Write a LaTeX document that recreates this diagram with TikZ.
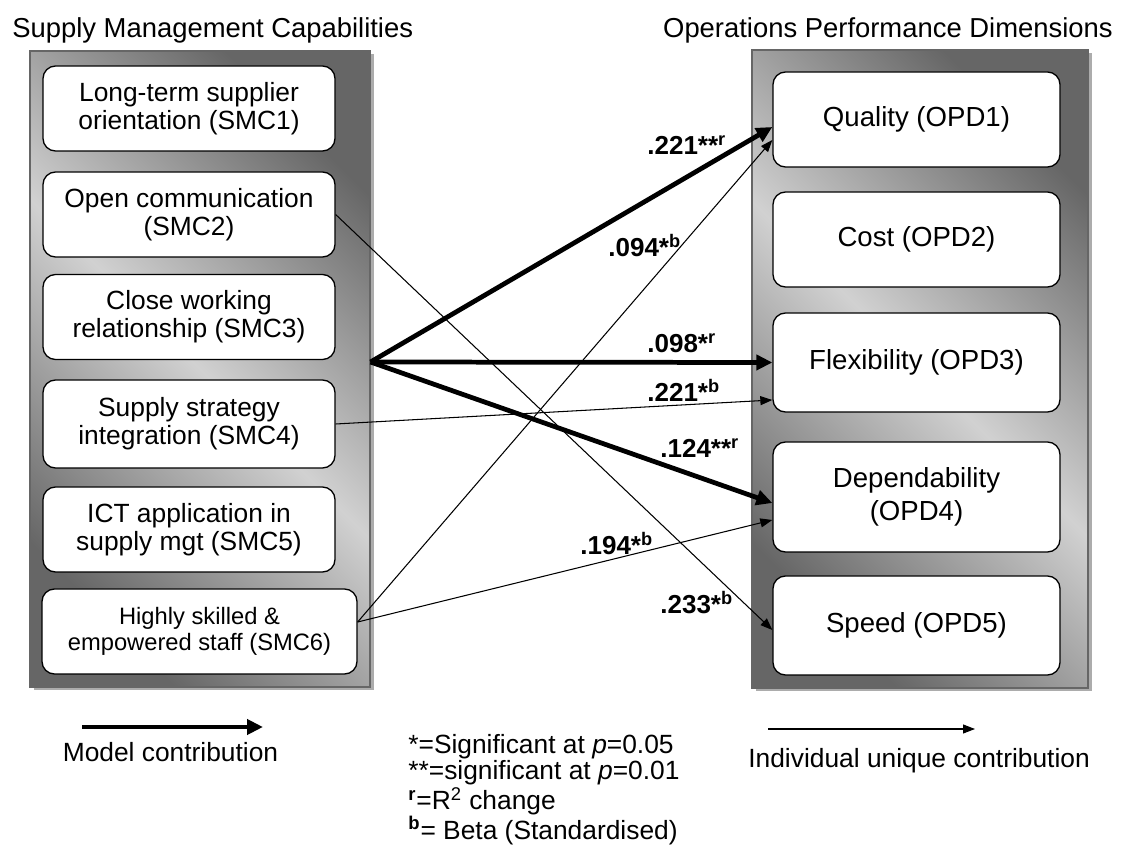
\documentclass[tikz,border=0pt]{standalone}
\usepackage{fontspec}
\setmainfont{Liberation Sans}
\usetikzlibrary{arrows.meta,shadows}
\definecolor{pnldark}{gray}{0.4}
\definecolor{pnllight}{gray}{0.82}
\tikzset{
  panel/.style={draw=gray!80!black,line width=.6pt,top color=pnldark,bottom color=pnldark,middle color=pnllight,shading angle=-45,
    drop shadow={shadow xshift=.07cm,shadow yshift=-.07cm,fill=gray!65,opacity=1}},
  smcbox/.style={draw,fill=white,rounded corners=.25cm,line width=.75pt,minimum width=5.84cm,minimum height=1.7cm,
    align=center,font=\fontsize{15}{16}\selectfont},
  opdbox/.style={draw,fill=white,rounded corners=.25cm,line width=.75pt,minimum width=5.74cm,minimum height=1.9cm,
    align=center,font=\fontsize{15.7}{19}\selectfont},
  model/.style={line width=2.7pt,-{Triangle[length=.32cm,width=.3cm]}},
  unique/.style={line width=.6pt,-{Triangle[length=.24cm,width=.18cm]}},
  coef/.style={anchor=base west,inner sep=0,font=\fontsize{14.8}{16}\selectfont\bfseries},
  title/.style={inner sep=0,font=\fontsize{15.6}{18}\selectfont},
  legend/.style={inner sep=0,font=\fontsize{15}{15.1}\selectfont}
}
\begin{document}
\begin{tikzpicture}
\useasboundingbox(0,0)rectangle(22.56,17.08);

%titles
\node[title,anchor=base west](smctitle)at(.24,16.32){Supply Management Capabilities};
\node[title,anchor=base east](opdtitle)at(22.26,16.32){Operations Performance Dimensions};
%panels
\node[panel,minimum width=6.8cm,minimum height=12.72cm](smcpanel)at(4,9.7){};
\node[panel,minimum width=6.72cm,minimum height=12.76cm](opdpanel)at(18.4,9.7){};
%capabilities
\node[smcbox](smc1)at(3.78,14.91){Long-term supplier\\orientation (SMC1)};
\node[smcbox](smc2)at(3.78,12.79){Open communication\\(SMC2)};
\node[smcbox](smc3)at(3.78,10.74){Close working\\relationship (SMC3)};
\node[smcbox,minimum height=1.76cm](smc4)at(3.78,8.6){Supply strategy\\integration (SMC4)};
\node[smcbox](smc5)at(3.78,6.49){ICT application in\\supply mgt (SMC5)};
\node[smcbox,minimum width=6.3cm,font=\fontsize{13.5}{15}\selectfont](smc6)at(3.99,4.45){Highly skilled \&\\empowered staff (SMC6)};
%dimensions
\node[opdbox](opd1)at(18.33,14.69){Quality (OPD1)};
\node[opdbox](opd2)at(18.33,12.29){Cost (OPD2)};
\node[opdbox,minimum height=1.98cm](opd3)at(18.33,9.83){Flexibility (OPD3)};
\node[opdbox,minimum height=2.2cm](opd4)at(18.33,7.14){Dependability\\(OPD4)};
\node[opdbox,minimum height=1.98cm](opd5)at(18.33,4.57){Speed (OPD5)};
%model contribution
\coordinate(hub)at([yshift=.14cm]smcpanel.east);
\draw[model](hub)--([yshift=-.15cm]opd1.west);
\draw[model](hub)--(opd3.west);
\draw[model](hub)--([yshift=-.12cm]opd4.west);
%individual unique contribution
\draw[unique](smc2.east)--([yshift=-.09cm]opd5.west);
\draw[unique](smc4.east)--([yshift=-.75cm]opd3.west);
\draw[unique]([yshift=.19cm]smc6.east)--([yshift=-.41cm]opd1.west);
\draw[unique]([yshift=.19cm]smc6.east)--([yshift=-.46cm]opd4.west);
%coefficients
\node[coef](c1)at(12.94,13.98){.221**\textsuperscript{r}};
\node[coef](c2)at(12.16,11.94){.094*\textsuperscript{b}};
\node[coef](c3)at(12.94,10.02){.098*\textsuperscript{r}};
\node[coef](c4)at(12.94,9.04){.221*\textsuperscript{b}};
\node[coef](c5)at(13.2,7.92){.124**\textsuperscript{r}};
\node[coef](c6)at(11.6,5.98){.194*\textsuperscript{b}};
\node[coef](c7)at(13.2,4.8){.233*\textsuperscript{b}};
%legend
\coordinate(mstart)at(1.64,2.54);
\coordinate(mend)at(5.26,2.54);
\draw[model](mstart)--(mend);
\node[legend,anchor=base](mlabel)at(3.41,1.84){Model contribution};
\coordinate(ustart)at(15.36,2.5);
\coordinate(uend)at(19.5,2.5);
\draw[unique](ustart)--(uend);
\node[legend,anchor=base west](ulabel)at(14.96,1.72){Individual unique contribution};
%notes
\node[legend,anchor=north west,align=left](notes)at(8.16,2.4){*=Significant at \textit{p}=0.05\\**=significant at \textit{p}=0.01\\\textsuperscript{\textbf{r}}=R\textsuperscript{2} change\\\textsuperscript{\textbf{b}}= Beta (Standardised)};

\end{tikzpicture}
\end{document}
